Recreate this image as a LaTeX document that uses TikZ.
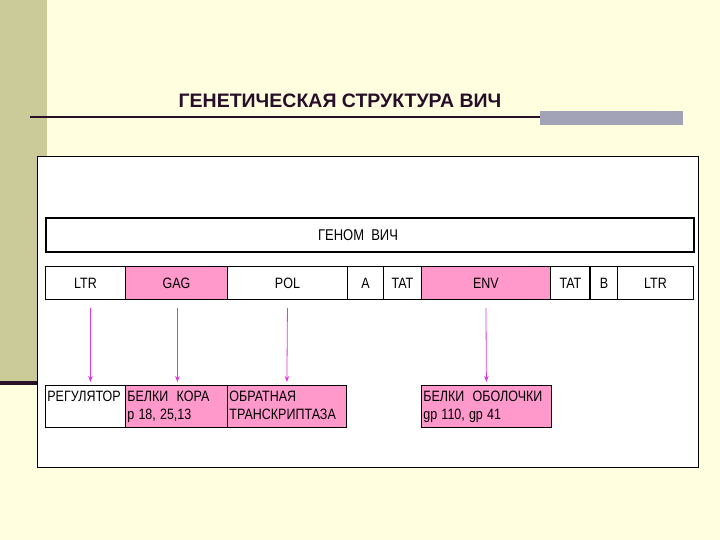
\documentclass[tikz,border=0pt]{standalone}
\usepackage{fontspec}
\usepackage{graphicx}
\setmainfont{Liberation Sans}
\usetikzlibrary{arrows.meta}
\definecolor{bgyellow}{RGB}{255,255,224}
\definecolor{olive}{RGB}{203,203,153}
\definecolor{darkbar}{RGB}{40,16,40}
\definecolor{greybar}{RGB}{163,163,183}
\definecolor{genepink}{RGB}{255,153,204}
\definecolor{arrowmag}{RGB}{224,56,224}
\definecolor{titlecol}{RGB}{40,14,40}
\newcommand{\tl}[1]{\scalebox{1}[1.2]{#1}}
\newcommand{\pl}[1]{\scalebox{1}[1.2]{\strut #1}}
\tikzset{
  gene/.style={draw=black, line width=0.9pt, minimum height=33pt, anchor=north west, inner sep=0pt,
    font=\fontsize{12.5}{14}\selectfont},
  pinkgene/.style={gene, fill=genepink},
  whitegene/.style={gene, fill=white},
  prot/.style={draw=black, line width=0.8pt, minimum height=42pt, anchor=north west, inner sep=2pt,
    align=left, font=\fontsize{12.5}{15}\selectfont, text width=#1},
  arr/.style={draw=arrowmag, line width=0.8pt, -{Stealth[length=6pt,width=4.5pt]}}
}
\begin{document}
\begin{tikzpicture}[x=1pt,y=-1pt]
\useasboundingbox (0,0) rectangle (720,540);
\fill[bgyellow] (0,0) rectangle (720,540);
\fill[olive] (0,0) rectangle (47,381);
\fill[darkbar] (0,381) rectangle (47,385);
% title
\node[font=\fontsize{19.5}{22}\selectfont\bfseries, text=titlecol] (title) at (340,101) {ГЕНЕТИЧЕСКАЯ СТРУКТУРА ВИЧ};
\fill[greybar] (540,111) rectangle (683,125);
\draw[darkbar, line width=1.8pt] (30,117) -- (540,117);
% panel
\node[draw=black, fill=white, line width=1pt, minimum width=661pt, minimum height=311pt, anchor=north west, inner sep=0pt] (panel) at (37,156) {};
% genome
\node[draw=black, line width=1.8pt, minimum width=648pt, minimum height=34pt, anchor=north west, inner sep=0pt] (genome) at (45,217) {};
\node[font=\fontsize{13}{14}\selectfont] (genomelbl) at (358,235) {\tl{ГЕНОМ\ \ ВИЧ}};
% genes
\node[whitegene, minimum width=80pt] (ltr1) at (45,266) {\tl{LTR}};
\node[pinkgene, minimum width=102pt] (gag) at (125,266) {\tl{GAG}};
\node[whitegene, minimum width=120pt] (pol) at (227,266) {\tl{POL}};
\node[whitegene, minimum width=36pt] (a) at (347,266) {\tl{A}};
\node[whitegene, minimum width=38pt] (tat1) at (383,266) {\tl{TAT}};
\node[pinkgene, minimum width=129pt] (env) at (421,266) {\tl{ENV}};
\node[whitegene, minimum width=40pt] (tat2) at (550,266) {\tl{TAT}};
\node[whitegene, minimum width=27pt] (b) at (590,266) {\tl{B}};
\node[whitegene, minimum width=76pt] (ltr2) at (617,266) {\tl{LTR}};
\draw[line width=1.6pt] (590,266) -- (590,299);
% proteins
\node[prot=76pt, fill=white] (reg) at (45,385) {\pl{РЕГУЛЯТОР}\\[-1pt]\pl{}};
\node[prot=98pt, fill=genepink] (core) at (125,385) {\pl{БЕЛКИ\ \ КОРА}\\[-1pt]\pl{p 18, 25,13}};
\node[prot=115pt, fill=genepink] (rt) at (227,385) {\pl{ОБРАТНАЯ}\\[-1pt]\pl{ТРАНСКРИПТАЗА}};
\node[prot=126pt, fill=genepink] (envp) at (421,385) {\pl{БЕЛКИ\ \ ОБОЛОЧКИ}\\[-1pt]\pl{gp 110, gp 41}};
% arrows
\draw[arr] ([xshift=5pt,yshift=-8pt]ltr1.south) -- ([xshift=5pt,yshift=3pt]reg.north);
\draw[arr] ([xshift=1pt,yshift=-8pt]gag.south) -- ([xshift=1pt,yshift=3pt]core.north);
\draw[arr] ([yshift=-8pt]pol.south) -- ([yshift=3pt]rt.north);
\draw[arr] ([yshift=-8pt]env.south) -- ([yshift=3pt]envp.north);
\end{tikzpicture}
\end{document}
